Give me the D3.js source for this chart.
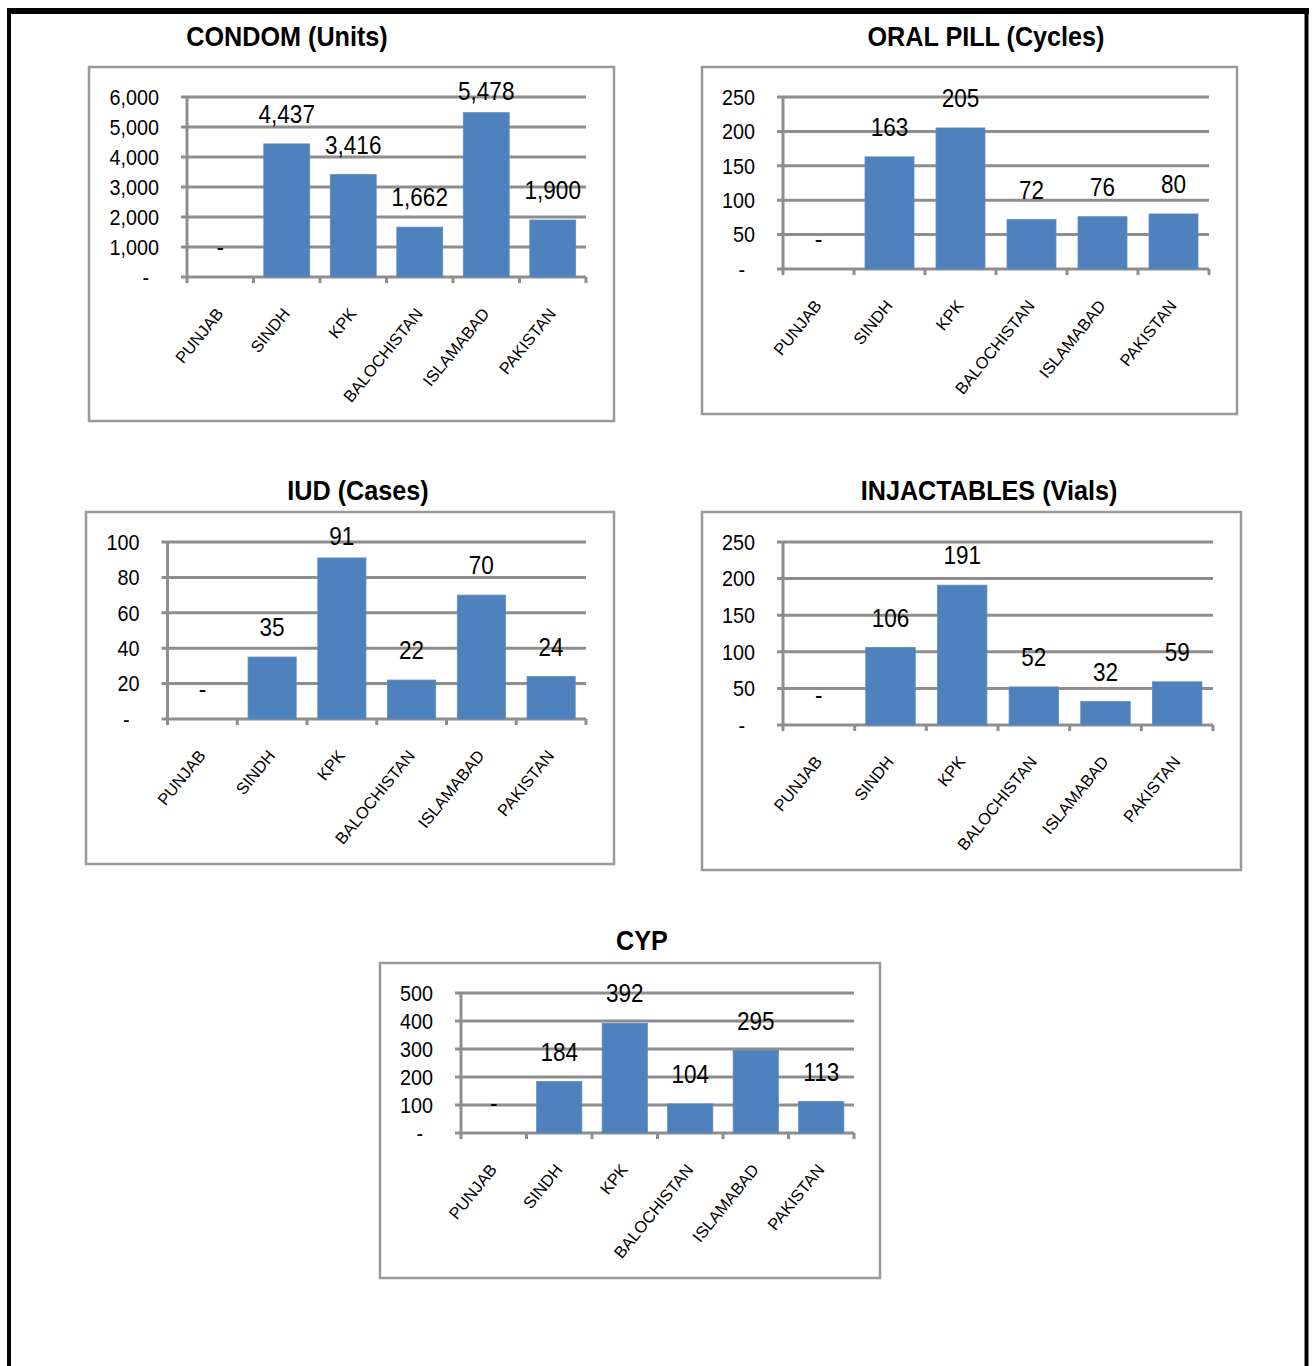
<!DOCTYPE html>
<html>
<head>
<meta charset="utf-8">
<script src="https://cdn.jsdelivr.net/npm/d3@7"></script>
<style>
  html, body { margin: 0; padding: 0; background: #fff; }
  svg { display: block; }
  text { font-family: "Liberation Sans", Arial, sans-serif; }
</style>
</head>
<body>
<svg id="chart" width="1313" height="1366"></svg>
<script>
// ---- Data ----
const categories = ["PUNJAB", "SINDH", "KPK", "BALOCHISTAN", "ISLAMABAD", "PAKISTAN"];

const condomValues     = [0, 4437, 3416, 1662, 5478, 1900];
const oralPillValues   = [0, 163, 205, 72, 76, 80];
const iudValues        = [0, 35, 91, 22, 70, 24];
const injectableValues = [0, 106, 191, 52, 32, 59];
const cypValues        = [0, 184, 392, 104, 295, 113];

const condomTicks     = [0, 1000, 2000, 3000, 4000, 5000, 6000];
const oralPillTicks   = [0, 50, 100, 150, 200, 250];
const iudTicks        = [0, 20, 40, 60, 80, 100];
const injectableTicks = [0, 50, 100, 150, 200, 250];
const cypTicks        = [0, 100, 200, 300, 400, 500];

const chartTitles = ["CONDOM (Units)", "ORAL PILL (Cycles)", "IUD (Cases)", "INJACTABLES (Vials)", "CYP"];

// ---- Layout (positions only) ----
const layouts = [
  { values: condomValues,     ticks: condomTicks,     title: chartTitles[0], tx: 287, ty: 46,  frame: [89, 67, 614, 421],  x: [187, 586],   y0: 277,  y1: 97 },
  { values: oralPillValues,   ticks: oralPillTicks,   title: chartTitles[1], tx: 986, ty: 46,  frame: [702, 67, 1237, 414], x: [783, 1209],  y0: 269,  y1: 97 },
  { values: iudValues,        ticks: iudTicks,        title: chartTitles[2], tx: 358, ty: 500, frame: [86, 512, 614, 864], x: [167.5, 586], y0: 719,  y1: 542 },
  { values: injectableValues, ticks: injectableTicks, title: chartTitles[3], tx: 989, ty: 500, frame: [702, 512, 1241, 870], x: [783, 1213], y0: 725,  y1: 542 },
  { values: cypValues,        ticks: cypTicks,        title: chartTitles[4], tx: 642, ty: 950, frame: [380, 963, 880, 1278], x: [461, 854], y0: 1133, y1: 993 }
];

const svg = d3.select("#chart");
const BAR = "#4F81BD";
const GRID = "#8e8e8e";
const fmt = d3.format(",");

// condensed text helper (horizontal squeeze of Liberation Sans)
function narrow(g, x, y, str, size, anchor, weight, sx, dy) {
  return g.append("text")
    .attr("transform", `translate(${x},${y}) scale(${sx},1)`)
    .attr("dy", dy || 0)
    .attr("text-anchor", anchor)
    .attr("font-size", size)
    .attr("font-weight", weight || "normal")
    .attr("fill", "#000")
    .text(str);
}

// outer page border
svg.append("rect").attr("x", 9).attr("y", 11).attr("width", 1297.5).attr("height", 1400)
  .attr("fill", "none").attr("stroke", "#000").attr("stroke-width", 4);
svg.append("line").attr("x1", 7).attr("x2", 1309).attr("y1", 11).attr("y2", 11)
  .attr("stroke", "#000").attr("stroke-width", 6);

layouts.forEach(L => {
  const g = svg.append("g");
  const [fx0, fy0, fx1, fy1] = L.frame;

  // frame
  g.append("rect").attr("x", fx0).attr("y", fy0).attr("width", fx1 - fx0).attr("height", fy1 - fy0)
    .attr("fill", "#fff").attr("stroke", "#999").attr("stroke-width", 2.5);

  // title
  narrow(g, L.tx, L.ty, L.title, 28, "middle", "bold", 0.9);

  const maxT = L.ticks[L.ticks.length - 1];
  const y = d3.scaleLinear().domain([0, maxT]).range([L.y0, L.y1]);
  const x = d3.scaleBand().domain(categories).range(L.x).paddingInner(0.31).paddingOuter(0.155);
  const step = x.step();

  // gridlines + y labels
  L.ticks.forEach(t => {
    g.append("line").attr("x1", L.x[0] - 6).attr("x2", L.x[1])
      .attr("y1", y(t)).attr("y2", y(t))
      .attr("stroke", GRID).attr("stroke-width", 3);
    narrow(g, L.x[0] - 28 - (t === 0 ? 10 : 0), y(t), t === 0 ? "-" : fmt(t), 22, "end", "normal", 0.9, "0.35em");
  });

  // y axis line
  g.append("line").attr("x1", L.x[0]).attr("x2", L.x[0]).attr("y1", L.y1).attr("y2", L.y0)
    .attr("stroke", GRID).attr("stroke-width", 3);

  // x ticks
  d3.range(categories.length + 1).forEach(i => {
    const xx = L.x[0] + i * step;
    g.append("line").attr("x1", xx).attr("x2", xx).attr("y1", L.y0).attr("y2", L.y0 + 6)
      .attr("stroke", GRID).attr("stroke-width", 3);
  });

  // bars
  g.selectAll("rect.bar").data(L.values).join("rect").attr("class", "bar")
    .attr("x", (d, i) => x(categories[i]))
    .attr("width", x.bandwidth())
    .attr("y", d => y(d))
    .attr("height", d => L.y0 - y(d))
    .attr("fill", BAR)
    .attr("stroke", "#5b8cc6").attr("stroke-width", 0.8);

  // data labels
  L.values.forEach((d, i) => {
    const cx = x(categories[i]) + x.bandwidth() / 2;
    const cy = Math.max(y(d) - 29.5, L.y1 - 5.5);
    narrow(g, cx, cy, d === 0 ? "-" : fmt(d), 25, "middle", "normal", 0.9, "0.35em");
  });

  // category labels
  g.selectAll("text.cat").data(categories).join("text").attr("class", "cat")
    .attr("transform", c => `translate(${x(c) + x.bandwidth() / 2 + 4},${L.y0 + 37}) rotate(-51)`)
    .attr("text-anchor", "end").attr("font-size", 16.5).attr("fill", "#000")
    .text(c => c);
});
</script>
</body>
</html>
